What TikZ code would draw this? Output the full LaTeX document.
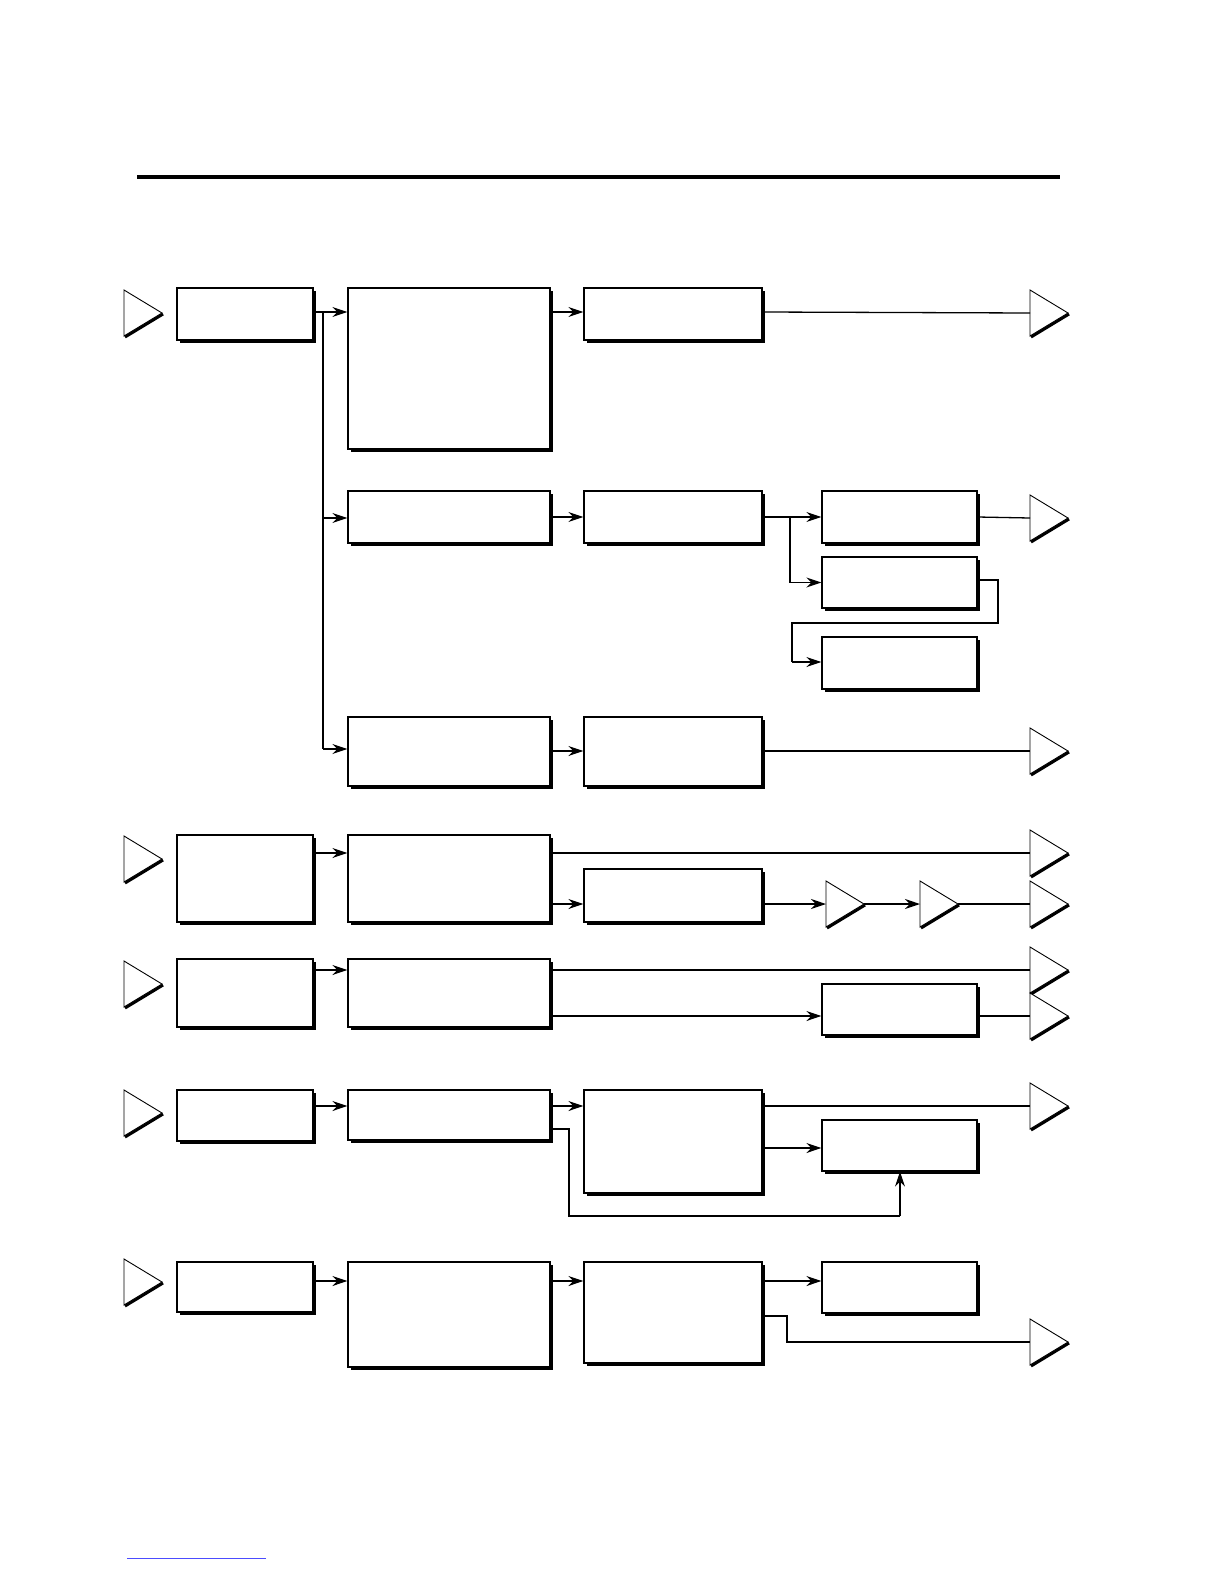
\documentclass[tikz,border=0pt]{standalone}
\usetikzlibrary{arrows.meta,shadows,calc}
\tikzset{
 bx/.style={draw,fill=white,line width=1.2pt,inner sep=0pt,
   drop shadow={shadow xshift=3pt,shadow yshift=-3pt,fill=black,opacity=1}},
 ln/.style={line width=1.3pt},
 ar/.style={line width=1.3pt,-{Stealth[length=15pt,width=10pt]}},
}
\newcommand{\bxx}[5]{\node[bx,minimum width=#4-#2,minimum height=#5-#3] (#1) at ({(#2+#4)/2},{(#3+#5)/2}) {};}
\newcommand{\trii}[3]{\draw[line width=3pt] (#2+1,#3+24)--(#2+39,#3+1);
 \draw[fill=white,line width=0.9pt] (#2,#3-23)--(#2+38,#3)--(#2,#3+23)--cycle;
 \coordinate (#1) at (#2,#3);}
\begin{document}
\begin{tikzpicture}[x=1pt,y=-1pt]
\useasboundingbox (0,0) rectangle (1224,1584);
\draw[line width=4pt] (137,177)--(1060,177);
\draw[blue!70,line width=0.8pt] (127,1558)--(266,1558);
% row 1-3
\trii{i1}{124}{313}
\bxx{A1}{177}{288}{313}{340}
\bxx{B1}{348}{288}{550}{449}
\bxx{C1}{584}{288}{762}{340}
\trii{o1}{1030}{313}
\bxx{B2}{348}{491}{550}{543}
\bxx{C2}{584}{491}{762}{543}
\bxx{D2a}{822}{491}{977}{543}
\bxx{D2b}{822}{557}{977}{608}
\bxx{D2c}{822}{637}{977}{689}
\trii{o2}{1030}{518}
\bxx{B3}{348}{717}{550}{786}
\bxx{C3}{584}{717}{762}{786}
\trii{o3}{1030}{751}
\draw[ar] (A1.east|-0,312) -- (B1.west|-0,312);
\draw[ln] (323,312) -- (323,749);
\draw[ar] (323,518) -- (B2.west|-0,518);
\draw[ar] (323,749) -- (B3.west|-0,749);
\draw[ar] (B1.east|-0,312) -- (C1.west|-0,312);
\draw[ln] (C1.east|-0,312) -- (o1);
\draw[ar] (B2.east) -- (C2.west);
\draw[ar] (C2.east) -- (D2a.west);
\draw[ln] (D2a.east) -- (o2);
\draw[ar] (790,517) |- (D2b.west);
\draw[ln] (D2b.east|-0,580) -- (998,580) -- (998,623) -- (792,623) -- (792,662);
\draw[ar] (792,662) -- (D2c.west|-0,662);
\draw[ar] (B3.east|-0,751) -- (C3.west|-0,751);
\draw[ln] (C3.east|-0,751) -- (o3);
% row 4
\trii{i4}{124}{859}
\bxx{A4}{177}{835}{313}{922}
\bxx{B4}{348}{835}{550}{922}
\bxx{C4}{584}{869}{762}{922}
\trii{s1}{826}{904}
\trii{s2}{920}{904}
\trii{o4a}{1030}{853}
\trii{o4b}{1030}{904}
\draw[ar] (A4.east|-0,853) -- (B4.west|-0,853);
\draw[ln] (B4.east|-0,853) -- (o4a);
\draw[ar] (B4.east|-0,904) -- (C4.west|-0,904);
\draw[ar] (C4.east|-0,904) -- (s1);
\draw[ar] (864,904) -- (s2);
\draw[ln] (958,904) -- (o4b);
% row 5
\trii{i5}{124}{984}
\bxx{A5}{177}{959}{313}{1027}
\bxx{B5}{348}{959}{550}{1027}
\bxx{D5}{822}{984}{977}{1035}
\trii{o5a}{1030}{970}
\trii{o5b}{1030}{1016}
\draw[ar] (A5.east|-0,970) -- (B5.west|-0,970);
\draw[ln] (B5.east|-0,970) -- (o5a);
\draw[ar] (B5.east|-0,1016) -- (D5.west|-0,1016);
\draw[ln] (D5.east|-0,1016) -- (o5b);
% row 6
\trii{i6}{124}{1113}
\bxx{A6}{177}{1090}{313}{1141}
\bxx{B6}{348}{1090}{550}{1140}
\bxx{C6}{584}{1090}{762}{1193}
\bxx{D6}{822}{1120}{977}{1171}
\trii{o6}{1030}{1106}
\draw[ar] (A6.east|-0,1106) -- (B6.west|-0,1106);
\draw[ar] (B6.east|-0,1106) -- (C6.west|-0,1106);
\draw[ln] (C6.east|-0,1106) -- (o6);
\draw[ar] (C6.east|-0,1148) -- (D6.west|-0,1148);
\draw[ln] (B6.east|-0,1129) -- (569,1129) -- (569,1216) -- (900,1216);
\draw[ar] (900,1216) -- (D6.south-|900,0);
% row 7
\trii{i7}{124}{1282}
\bxx{A7}{177}{1262}{313}{1312}
\bxx{B7}{348}{1262}{550}{1367}
\bxx{C7}{584}{1262}{762}{1363}
\bxx{D7}{822}{1262}{977}{1313}
\trii{o7}{1030}{1342}
\draw[ar] (A7.east|-0,1281) -- (B7.west|-0,1281);
\draw[ar] (B7.east|-0,1281) -- (C7.west|-0,1281);
\draw[ar] (C7.east|-0,1281) -- (D7.west|-0,1281);
\draw[ln] (C7.east|-0,1316) -- (787,1316) -- (787,1342) -- (o7);
\end{tikzpicture}
\end{document}
